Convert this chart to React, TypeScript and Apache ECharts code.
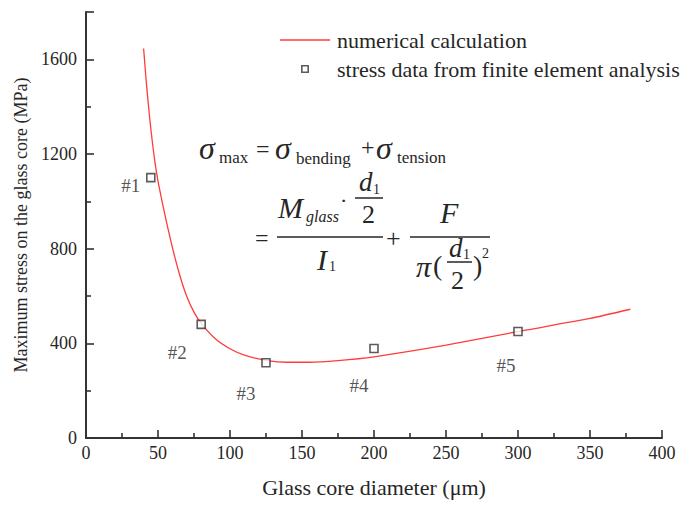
import React, { useEffect, useRef } from "react";
import * as echarts from "echarts";

// Glass core diameter (µm) and computed maximum stress (MPa)
const curveDiameter = [40, 42, 44, 46, 48, 50, 53, 56, 60, 65, 70, 75, 80, 90, 100, 110, 125, 140, 155, 175, 200, 250, 300, 350, 378];
const curveStress = [1646, 1495, 1365, 1255, 1160, 1085, 995, 910, 805, 690, 598, 532, 484, 418, 377, 350, 328, 320, 320, 327, 343, 392, 450, 505, 544];

// Finite element results for samples #1..#5
const feDiameter = [45, 80, 125, 200, 300];
const feStress = [1100, 480, 318, 378, 450];
const feTags = ["#1", "#2", "#3", "#4", "#5"];

const xTicks = { min: 0, max: 400, interval: 50 };
const yTicks = { min: 0, max: 1800, interval: 400 };

const SERIF = "'Liberation Serif', 'Times New Roman', serif";
const INK = "#262626";
const RED = "#ff3b3b";

// label offsets (px) placing each "#n" tag beside its square
const tagOffsets: [number, number][] = [
  [-20, 8],
  [-24, 28],
  [-20, 31],
  [-15, 37],
  [-12, 34],
];

function txt(text: string, x: number, y: number, size: number, italic = false) {
  return {
    type: "text",
    x,
    y,
    style: {
      text,
      fill: INK,
      font: `${italic ? "italic " : ""}${size}px ${SERIF}`,
      verticalAlign: "middle",
      align: "left",
    },
  };
}

function bar(x1: number, x2: number, y: number) {
  return {
    type: "line",
    shape: { x1, y1: y, x2, y2: y },
    style: { stroke: INK, lineWidth: 1.5 },
  };
}

export default function App() {
  const ref = useRef<HTMLDivElement>(null);

  useEffect(() => {
    if (!ref.current) return;
    const chart = echarts.init(ref.current, undefined, { renderer: "svg" });

    const curve = curveDiameter.map((d, i) => [d, curveStress[i]]);
    const fe = feDiameter.map((d, i) => ({
      value: [d, feStress[i]],
      label: { formatter: feTags[i], offset: tagOffsets[i] },
    }));

    const equation = [
      // sigma_max = sigma_bending + sigma_tension
      txt("σ", 199, 148, 32, true),
      txt("max", 219, 157, 17),
      txt("=", 256, 149, 24),
      txt("σ", 275, 148, 32, true),
      txt("bending", 296, 158, 17),
      txt("+", 361, 147, 24),
      txt("σ", 376, 148, 32, true),
      txt("tension", 397, 157, 17),
      // = (M_glass * d1/2) / I1 + F / (pi (d1/2)^2)
      txt("=", 255, 238, 24),
      bar(277, 383, 237),
      txt("M", 278, 207, 30, true),
      txt("glass", 306, 216, 16, true),
      txt("·", 340, 200, 22),
      txt("d", 359, 182, 27, true),
      txt("1", 373, 189, 14),
      bar(355, 383, 198),
      txt("2", 362, 214, 26),
      txt("I", 317, 259, 30, true),
      txt("1", 329, 266, 14),
      txt("+", 386, 238, 26),
      bar(410, 490, 237),
      txt("F", 440, 212, 30, true),
      txt("π", 416, 266, 30, true),
      txt("(", 433, 265, 28),
      txt("d", 449, 248, 27, true),
      txt("1", 463, 254, 14),
      bar(447, 472, 262),
      txt("2", 451, 280, 26),
      txt(")", 473, 265, 28),
      txt("2", 482, 253, 14),
    ];

    chart.setOption({
      animation: false,
      backgroundColor: "#ffffff",
      textStyle: { fontFamily: SERIF },
      grid: { left: 86, right: 27, top: 12, bottom: 68, containLabel: false },
      legend: {
        orient: "vertical",
        left: 275,
        top: 24,
        itemWidth: 50,
        itemHeight: 8,
        itemGap: 7,
        textStyle: { fontFamily: SERIF, fontSize: 22, color: INK, padding: [0, 0, 0, 2] },
        data: [
          { name: "numerical calculation", icon: "path://M0,0 L50,0 L50,1.6 L0,1.6 Z" },
          {
            name: "stress data from finite element analysis",
            // hollow square outline
            icon: "path://M0,0 L8,0 L8,8 L0,8 Z M1.6,1.6 L1.6,6.4 L6.4,6.4 L6.4,1.6 Z",
            itemStyle: { color: "#333", borderWidth: 0 },
          },
        ],
      },
      xAxis: {
        type: "value",
        ...xTicks,
        name: "Glass core diameter (μm)",
        nameLocation: "middle",
        nameGap: 38,
        nameTextStyle: { fontFamily: SERIF, fontSize: 22, color: INK },
        axisLine: { lineStyle: { color: "#333", width: 2 } },
        axisTick: { inside: true, length: 8, lineStyle: { color: "#333", width: 1.6 } },
        minorTick: { show: true, splitNumber: 2, length: 5, lineStyle: { color: "#333", width: 1.6 } },
        splitLine: { show: false },
        axisLabel: { fontFamily: SERIF, fontSize: 18, color: INK, margin: 6 },
      },
      yAxis: {
        type: "value",
        ...yTicks,
        name: "Maximum stress on the glass core (MPa)",
        nameLocation: "middle",
        nameGap: 54,
        nameTextStyle: { fontFamily: SERIF, fontSize: 18, color: INK },
        axisLine: { show: true, lineStyle: { color: "#333", width: 2 } },
        axisTick: { show: true, inside: true, length: 8, lineStyle: { color: "#333", width: 1.6 } },
        minorTick: { show: true, splitNumber: 2, length: 5, lineStyle: { color: "#333", width: 1.6 } },
        splitLine: { show: false },
        axisLabel: {
          fontFamily: SERIF,
          fontSize: 18,
          color: INK,
          margin: 9,
          showMaxLabel: false,
          formatter: (v: number) => String(v),
        },
      },
      series: [
        {
          name: "numerical calculation",
          type: "line",
          data: curve,
          smooth: 0.2,
          showSymbol: false,
          symbol: "none",
          lineStyle: { color: RED, width: 1.3 },
          itemStyle: { color: RED },
          z: 2,
        },
        {
          name: "stress data from finite element analysis",
          type: "scatter",
          data: fe,
          symbol: "rect",
          symbolSize: 8,
          itemStyle: { color: "#ffffff", borderColor: "#333", borderWidth: 1.6 },
          label: {
            show: true,
            position: "inside",
            fontFamily: SERIF,
            fontSize: 19,
            color: INK,
          },
          z: 3,
        },
      ],
      graphic: equation,
    });

    return () => chart.dispose();
  }, []);

  return (
    <div
      ref={ref}
      style={{ position: "absolute", left: 0, top: 0, width: 689, height: 506 }}
    />
  );
}
